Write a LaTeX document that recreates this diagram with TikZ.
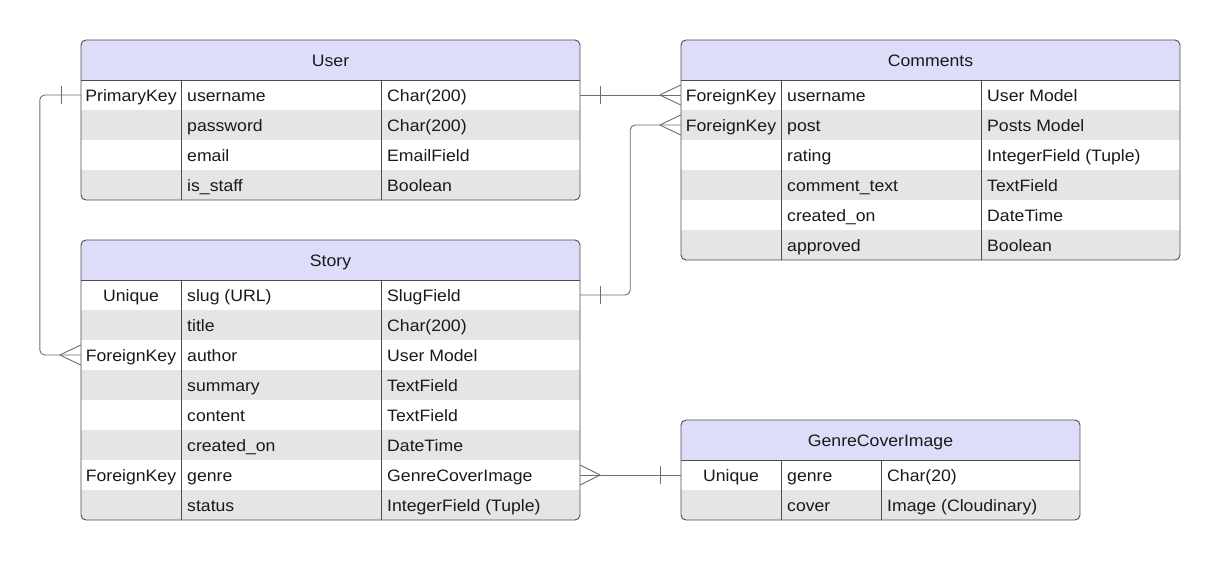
\documentclass[tikz,border=0pt]{standalone}
\usepackage{fontspec}
\setmainfont{Liberation Sans}[FakeStretch=1.07]
\usetikzlibrary{calc}
\definecolor{hdrfill}{HTML}{DDDDFA}
\definecolor{altfill}{HTML}{E5E5E5}
\definecolor{bordc}{HTML}{4D4D4D}
\definecolor{lnkc}{HTML}{6E6E6E}
\definecolor{txtc}{HTML}{1A1A1A}
\tikzset{
  rowbox/.style={inner sep=0pt, minimum height=30pt, draw=none},
  cellkey/.style={inner sep=0pt, anchor=base, text=txtc, font=\fontsize{16.5}{19}\selectfont},
  celltxt/.style={inner sep=0pt, anchor=base west, text=txtc, font=\fontsize{16.5}{19}\selectfont},
  titletxt/.style={inner sep=0pt, anchor=base, text=txtc, font=\fontsize{16.5}{19}\selectfont},
  bordline/.style={draw=bordc, line width=0.9pt},
  erlink/.style={draw=lnkc, line width=0.9pt},
}
% #1 name #2 x #3 y #4 w #5 c1 #6 c2 #7 nrows #8 title #9 rows
\newcommand{\ertable}[9]{%
  \pgfmathsetmacro{\tbot}{#3+40+30*#7}
  \begin{scope}
    \clip[rounded corners=5pt] (#2,#3) rectangle (#2+#4,\tbot);
    \fill[hdrfill] (#2,#3) rectangle (#2+#4,#3+40);
    \foreach \colA/\colB/\colC [count=\ri] in {#9} {
      \pgfmathsetmacro{\ry}{#3+40+30*(\ri-1)+15}
      \ifodd\ri \def\rfill{white}\else\def\rfill{altfill}\fi
      \node[rowbox, fill=\rfill, minimum width=#4 pt] (#1-\ri) at ({#2+#4/2},\ry) {};
      \node[cellkey] at ({#2+#5/2},\ry+6) {\colA};
      \node[celltxt] at ({#2+#5+6},\ry+6) {\colB};
      \node[celltxt] at ({#2+#6+6},\ry+6) {\colC};
    }
  \end{scope}
  \node[titletxt] (#1-h) at ({#2+#4/2},#3+26) {#8};
  \draw[bordline] (#2,#3+40) -- (#2+#4,#3+40);
  \draw[bordline] (#2+#5,#3+40) -- (#2+#5,\tbot);
  \draw[bordline] (#2+#6,#3+40) -- (#2+#6,\tbot);
  \draw[bordline, rounded corners=5pt] (#2,#3) rectangle (#2+#4,\tbot);
}
\begin{document}
\begin{tikzpicture}[x=1pt,y=-1pt]
\useasboundingbox[fill=white] (0,0) rectangle (1220,560);

\ertable{user}{81}{40}{499}{100}{300}{4}{User}{
  PrimaryKey/username/Char(200),
  /password/Char(200),
  /email/EmailField,
  /is\_staff/Boolean}

\ertable{com}{681}{40}{499}{100}{300}{6}{Comments}{
  ForeignKey/username/User Model,
  ForeignKey/post/Posts Model,
  /rating/IntegerField (Tuple),
  /comment\_text/TextField,
  /created\_on/DateTime,
  /approved/Boolean}

\ertable{story}{81}{240}{499}{100}{300}{8}{Story}{
  Unique/slug (URL)/SlugField,
  /title/Char(200),
  ForeignKey/author/User Model,
  /summary/TextField,
  /content/TextField,
  /created\_on/DateTime,
  ForeignKey/genre/GenreCoverImage,
  /status/IntegerField (Tuple)}

\ertable{gci}{681}{420}{399}{100}{200}{2}{GenreCoverImage}{
  Unique/genre/Char(20),
  /cover/Image (Cloudinary)}

% User.username -> Story.author
\draw[erlink, rounded corners=5pt] (user-1.west) -- ++(-41,0) |- (story-3.west);
\draw[erlink] ($(user-1.west)+(-19,-9)$) -- ++(0,18);
\draw[erlink] ($(story-3.west)+(-21,0)$) -- ++(21,-10);
\draw[erlink] ($(story-3.west)+(-21,0)$) -- ++(21,10);

% User.username -> Comments.username
\draw[erlink] (user-1.east) -- (com-1.west);
\draw[erlink] ($(user-1.east)+(20,-9)$) -- ++(0,18);
\draw[erlink] ($(com-1.west)+(-21,0)$) -- ++(21,-10);
\draw[erlink] ($(com-1.west)+(-21,0)$) -- ++(21,10);

% Story.slug -> Comments.post
\draw[erlink, rounded corners=5pt] (story-1.east) -- ++(50,0) |- (com-2.west);
\draw[erlink] ($(story-1.east)+(20,-9)$) -- ++(0,18);
\draw[erlink] ($(com-2.west)+(-21,0)$) -- ++(21,-10);
\draw[erlink] ($(com-2.west)+(-21,0)$) -- ++(21,10);

% Story.genre -> GenreCoverImage.genre
\draw[erlink] (story-7.east) -- (gci-1.west);
\draw[erlink] ($(story-7.east)+(20,0)$) -- ++(-20,-10);
\draw[erlink] ($(story-7.east)+(20,0)$) -- ++(-20,10);
\draw[erlink] ($(gci-1.west)+(-20,-9)$) -- ++(0,18);
\end{tikzpicture}
\end{document}
